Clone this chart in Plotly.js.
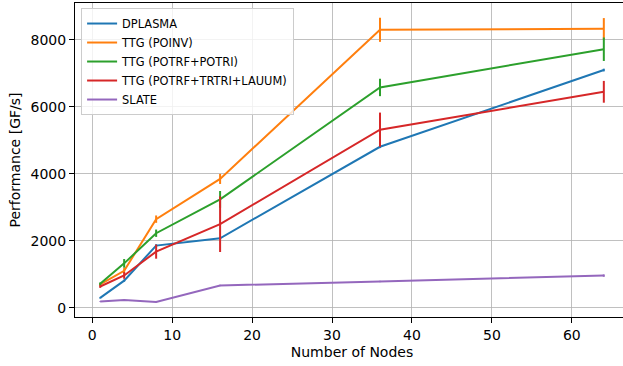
<!DOCTYPE html>
<html>
<head>
<meta charset="utf-8">
<script src="https://cdn.plot.ly/plotly-3.0.1.min.js"></script>
<style>
html, body { margin: 0; padding: 0; overflow: hidden; background: #fff; }
#chart { width: 640px; height: 366px; }
</style>
</head>
<body>
<div id="chart"></div>
<script>
const nodes = [1, 4, 8, 16, 36, 64];

const seriesNames = ["DPLASMA", "TTG (POINV)", "TTG (POTRF+POTRI)", "TTG (POTRF+TRTRI+LAUUM)", "SLATE"];
const seriesColors = ["#1f77b4", "#ff7f0e", "#2ca02c", "#d62728", "#9467bd"];

const dplasma     = [300, 815, 1860, 2080, 4810, 7100];
const dplasmaErr  = [20, 30, 40, 40, 40, 40];
const poinv       = [700, 1110, 2650, 3850, 8300, 8330];
const poinvErr    = [40, 80, 110, 150, 360, 320];
const potrfPotri  = [720, 1330, 2230, 3240, 6580, 7720];
const potrfPotriErr = [40, 130, 110, 250, 260, 350];
const trtriLauum  = [640, 970, 1680, 2500, 5320, 6450];
const trtriLauumErr = [40, 100, 210, 830, 510, 325];
const slate       = [190, 240, 180, 670, 790, 965];
const slateErr    = [10, 10, 10, 20, 20, 35];

const values = [dplasma, poinv, potrfPotri, trtriLauum, slate];
const errors = [dplasmaErr, poinvErr, potrfPotriErr, trtriLauumErr, slateErr];

const traces = values.map((v, i) => ({
  x: nodes,
  y: v,
  name: seriesNames[i],
  type: "scatter",
  mode: "lines",
  line: { color: seriesColors[i], width: 2 },
  error_y: { type: "data", array: errors[i], visible: true, color: seriesColors[i], thickness: 2, width: 0 }
}));

const layout = {
  width: 640,
  height: 366,
  margin: { l: 74.5, r: 11, t: 3, b: 49 },
  paper_bgcolor: "#fff",
  plot_bgcolor: "#fff",
  font: { family: "DejaVu Sans", size: 14, color: "#000" },
  showlegend: true,
  legend: {
    x: 0.011, y: 0.984, xanchor: "left", yanchor: "top",
    bgcolor: "rgba(255,255,255,0.8)",
    bordercolor: "#cccccc", borderwidth: 1,
    font: { family: "DejaVu Sans", size: 11.4, color: "#000" },
    tracegroupgap: 0
  },
  xaxis: {
    range: [-2.15, 67.15],
    tickvals: [0, 10, 20, 30, 40, 50, 60],
    showgrid: true, gridcolor: "#b0b0b0", gridwidth: 0.8,
    zeroline: false,
    showline: true, linecolor: "#000", linewidth: 1, mirror: true,
    ticks: "outside", ticklen: 5, tickcolor: "#000", tickwidth: 1,
    tickfont: { family: "DejaVu Sans", size: 14, color: "#000" },
    title: { text: "Number of Nodes", font: { family: "DejaVu Sans", size: 14, color: "#000" }, standoff: 5 }
  },
  yaxis: {
    range: [-270, 9100],
    tickvals: [0, 2000, 4000, 6000, 8000],
    showgrid: true, gridcolor: "#b0b0b0", gridwidth: 0.8,
    zeroline: false,
    showline: true, linecolor: "#000", linewidth: 1, mirror: true,
    ticks: "outside", ticklen: 5, tickcolor: "#000", tickwidth: 1,
    tickfont: { family: "DejaVu Sans", size: 14, color: "#000" },
    title: { text: "Performance [GF/s]", font: { family: "DejaVu Sans", size: 14, color: "#000" }, standoff: 6 }
  }
};

Plotly.newPlot("chart", traces, layout, { displayModeBar: false, staticPlot: true });
</script>
</body>
</html>
